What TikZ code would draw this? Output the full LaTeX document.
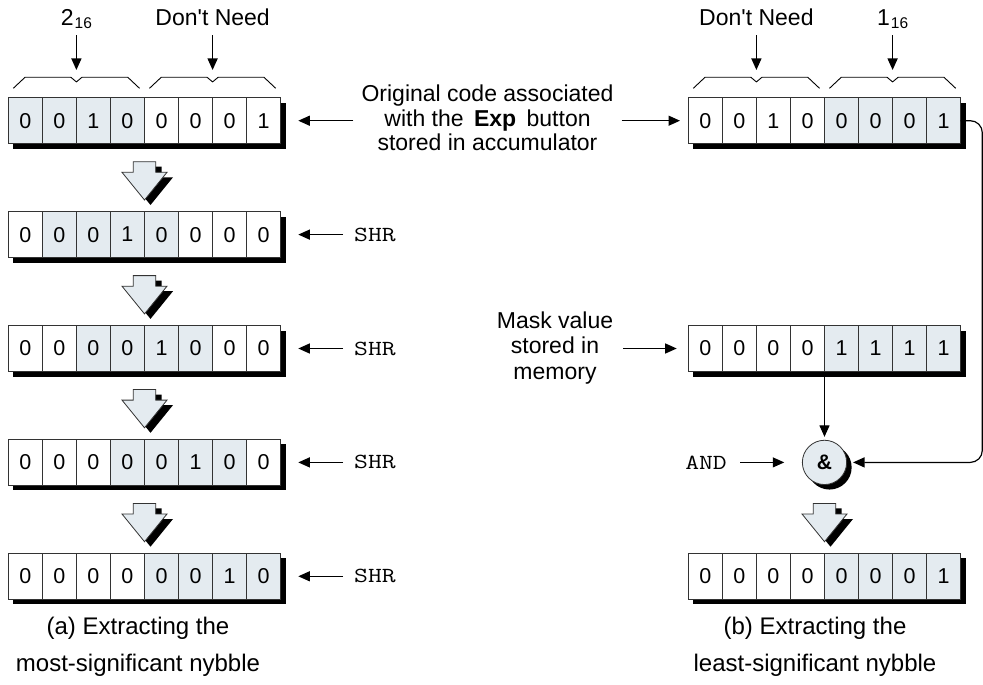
\documentclass[tikz,border=0pt]{standalone}
\usepackage{fontspec}
\setmainfont{Liberation Sans}
\usetikzlibrary{arrows.meta,shadows}
\definecolor{shade}{HTML}{E4EBF0}
\definecolor{edge}{HTML}{333333}

\tikzset{
  cell/.style={draw=edge, line width=0.8pt, minimum width=34.05pt, minimum height=46pt,
    inner sep=0pt, font=\fontsize{21.5}{21.5}\selectfont},
  regbox/.style={minimum width=272.4pt, minimum height=46pt, inner sep=0pt, outer sep=0pt},
  arr/.style={line width=1.2pt, -{Triangle[length=11.5pt,width=10pt]}},
  lab/.style={font=\fontsize{23}{25}\selectfont, inner sep=0pt},
  bracestyle/.style={line width=0.9pt},
  code/.style={font=\fontsize{21.5}{21.5}\selectfont\ttfamily, inner ysep=0pt},
  barrow/.pic={
    \fill[black] (-5.2,5) -- (17.2,5) -- (17.2,15.6) -- (28.5,15.6) -- (6,43.3)
      -- (-16.5,15.6) -- (-5.2,15.6) -- cycle;
    \filldraw[fill=shade, draw=edge, line width=0.8pt] (-11.2,0) -- (11.2,0) -- (11.2,10.6)
      -- (22.5,10.6) -- (0,38.3) -- (-22.5,10.6) -- (-11.2,10.6) -- cycle;
  },
}

% name, center x, center y, bits, first shaded cell
\newcommand\regrow[5]{%
  \node[regbox] (#1) at (#2,#3) {};
  \fill[black] ([shift={(5pt,-5pt)}]#1.north west) rectangle ([shift={(5pt,-5pt)}]#1.south east);
  \foreach \b [count=\i] in {#4} {
    \pgfmathtruncatemacro\sh{(\i>=#5)&&(\i<#5+4)}
    \ifnum\sh=1 \def\cf{shade}\else\def\cf{white}\fi
    \pgfmathsetmacro\cx{#2-136.2+34.05*\i-17.025}
    \node[cell, fill=\cf] at (\cx,#3) {\b};
  }
}
% left, right
\newcommand\nibbrace[2]{%
  \draw[bracestyle] (#1+5,88.3) -- (#1+16.7,77.3) -- ({(#1+#2)/2-5.5},77.3)
    -- ({(#1+#2)/2},81.9) -- ({(#1+#2)/2+5.5},77.3) -- (#2-16.7,77.3) -- (#2-5,88.3);
}

\begin{document}
\begin{tikzpicture}[x=1pt, y=-1pt]
\useasboundingbox (0,0) rectangle (983,685);

% ---------- left column ----------
\regrow{L1}{144.5}{120.7}{0,0,1,0,0,0,0,1}{1}
\regrow{L2}{144.5}{234.6}{0,0,0,1,0,0,0,0}{2}
\regrow{L3}{144.5}{348.5}{0,0,0,0,1,0,0,0}{3}
\regrow{L4}{144.5}{462.4}{0,0,0,0,0,1,0,0}{4}
\regrow{L5}{144.5}{576.3}{0,0,0,0,0,0,1,0}{5}

\pic at (144.5,161.7) {barrow};
\pic at (144.5,275.6) {barrow};
\pic at (144.5,389.5) {barrow};
\pic at (144.5,503.4) {barrow};

\nibbrace{8.3}{144.5}
\nibbrace{144.5}{280.7}
\coordinate (bk1) at (76.4,70);
\coordinate (bk2) at (212.6,70);
\node[lab, anchor=base, outer ysep=6.5pt] (t1) at (76.4,26)
  {2\kern1pt\raisebox{-2.5pt}{\fontsize{15.5}{15.5}\selectfont 16}};
\node[lab, anchor=base, outer ysep=9pt] (t2) at (212.6,26) {Don\textquotesingle t Need};
\draw[arr] (t1.south) -- (bk1);
\draw[arr] (t2.south) -- (bk2);

\foreach \n in {2,3,4,5} {
  \node[code, anchor=west, inner xsep=11pt] (s\n) at (L\n.east -| 343,0) {\scalebox{1.25}[1]{SHR}};
  \draw[arr, shorten >=17.6pt] (s\n.west) -- (L\n.east);
}

\node[font=\fontsize{24}{36.7}\selectfont, align=center] (capa) at (138,647)
  {(a) Extracting the\\most-significant nybble};

% ---------- middle text ----------
\node[lab, align=center, inner xsep=8pt, font=\fontsize{23}{24.5}\selectfont] (mid) at (487.5,118)
  {Original code associated\\with the\hspace{4pt} \textbf{Exp}\hspace{4pt} button\\stored in accumulator};

% ---------- right column ----------
\regrow{R1}{824.5}{120.7}{0,0,1,0,0,0,0,1}{5}
\regrow{M}{824.5}{348.5}{0,0,0,0,1,1,1,1}{5}
\regrow{R2}{824.5}{576.3}{0,0,0,0,0,0,0,1}{5}

\nibbrace{688.3}{824.5}
\nibbrace{824.5}{960.7}
\coordinate (bk3) at (756.4,70);
\coordinate (bk4) at (892.6,70);
\node[lab, anchor=base, outer ysep=9pt] (t3) at (756.4,26) {Don\textquotesingle t Need};
\node[lab, anchor=base, outer ysep=6.5pt] (t4) at (892.6,26)
  {1\kern1pt\raisebox{-2.5pt}{\fontsize{15.5}{15.5}\selectfont 16}};
\draw[arr] (t3.south) -- (bk3);
\draw[arr] (t4.south) -- (bk4);

\draw[arr, shorten >=17.6pt] (mid.west |- L1.east) -- (L1.east);
\draw[arr, shorten >=8.3pt] (mid.east |- R1.west) -- (R1.west);

\node[lab, align=center, inner xsep=10pt, font=\fontsize{23}{25.5}\selectfont] (mtxt) at (555,348)
  {Mask value\\stored in\\memory};
\draw[arr, shorten >=11.6pt] (mtxt.east |- M.west) -- (M.west);

\node[circle, draw=edge, fill=shade, line width=0.8pt, minimum size=44.3pt, inner sep=0pt,
  font=\bfseries\fontsize{21}{21}\selectfont,
  drop shadow={shadow xshift=5pt, shadow yshift=-5pt, fill=black, opacity=1}] (amp) at (824.5,462.4) {\&};

\draw[arr, shorten >=3pt] (M.south) -- (amp.north);

\node[code, anchor=east, inner xsep=13pt] (and) at (740,462.4) {\scalebox{1.25}[1]{AND}};
\draw[arr, shorten >=17.7pt] (and.east) -- (amp.west);

\coordinate (lc) at (982.3,462.4);
\draw[arr, rounded corners=12pt] (R1.east) -| (lc) -- ([xshift=6pt]amp.east);

\pic at (824.5,503.4) {barrow};

\node[font=\fontsize{24}{36.7}\selectfont, align=center] (capb) at (815,647)
  {(b) Extracting the\\least-significant nybble};
\end{tikzpicture}
\end{document}
